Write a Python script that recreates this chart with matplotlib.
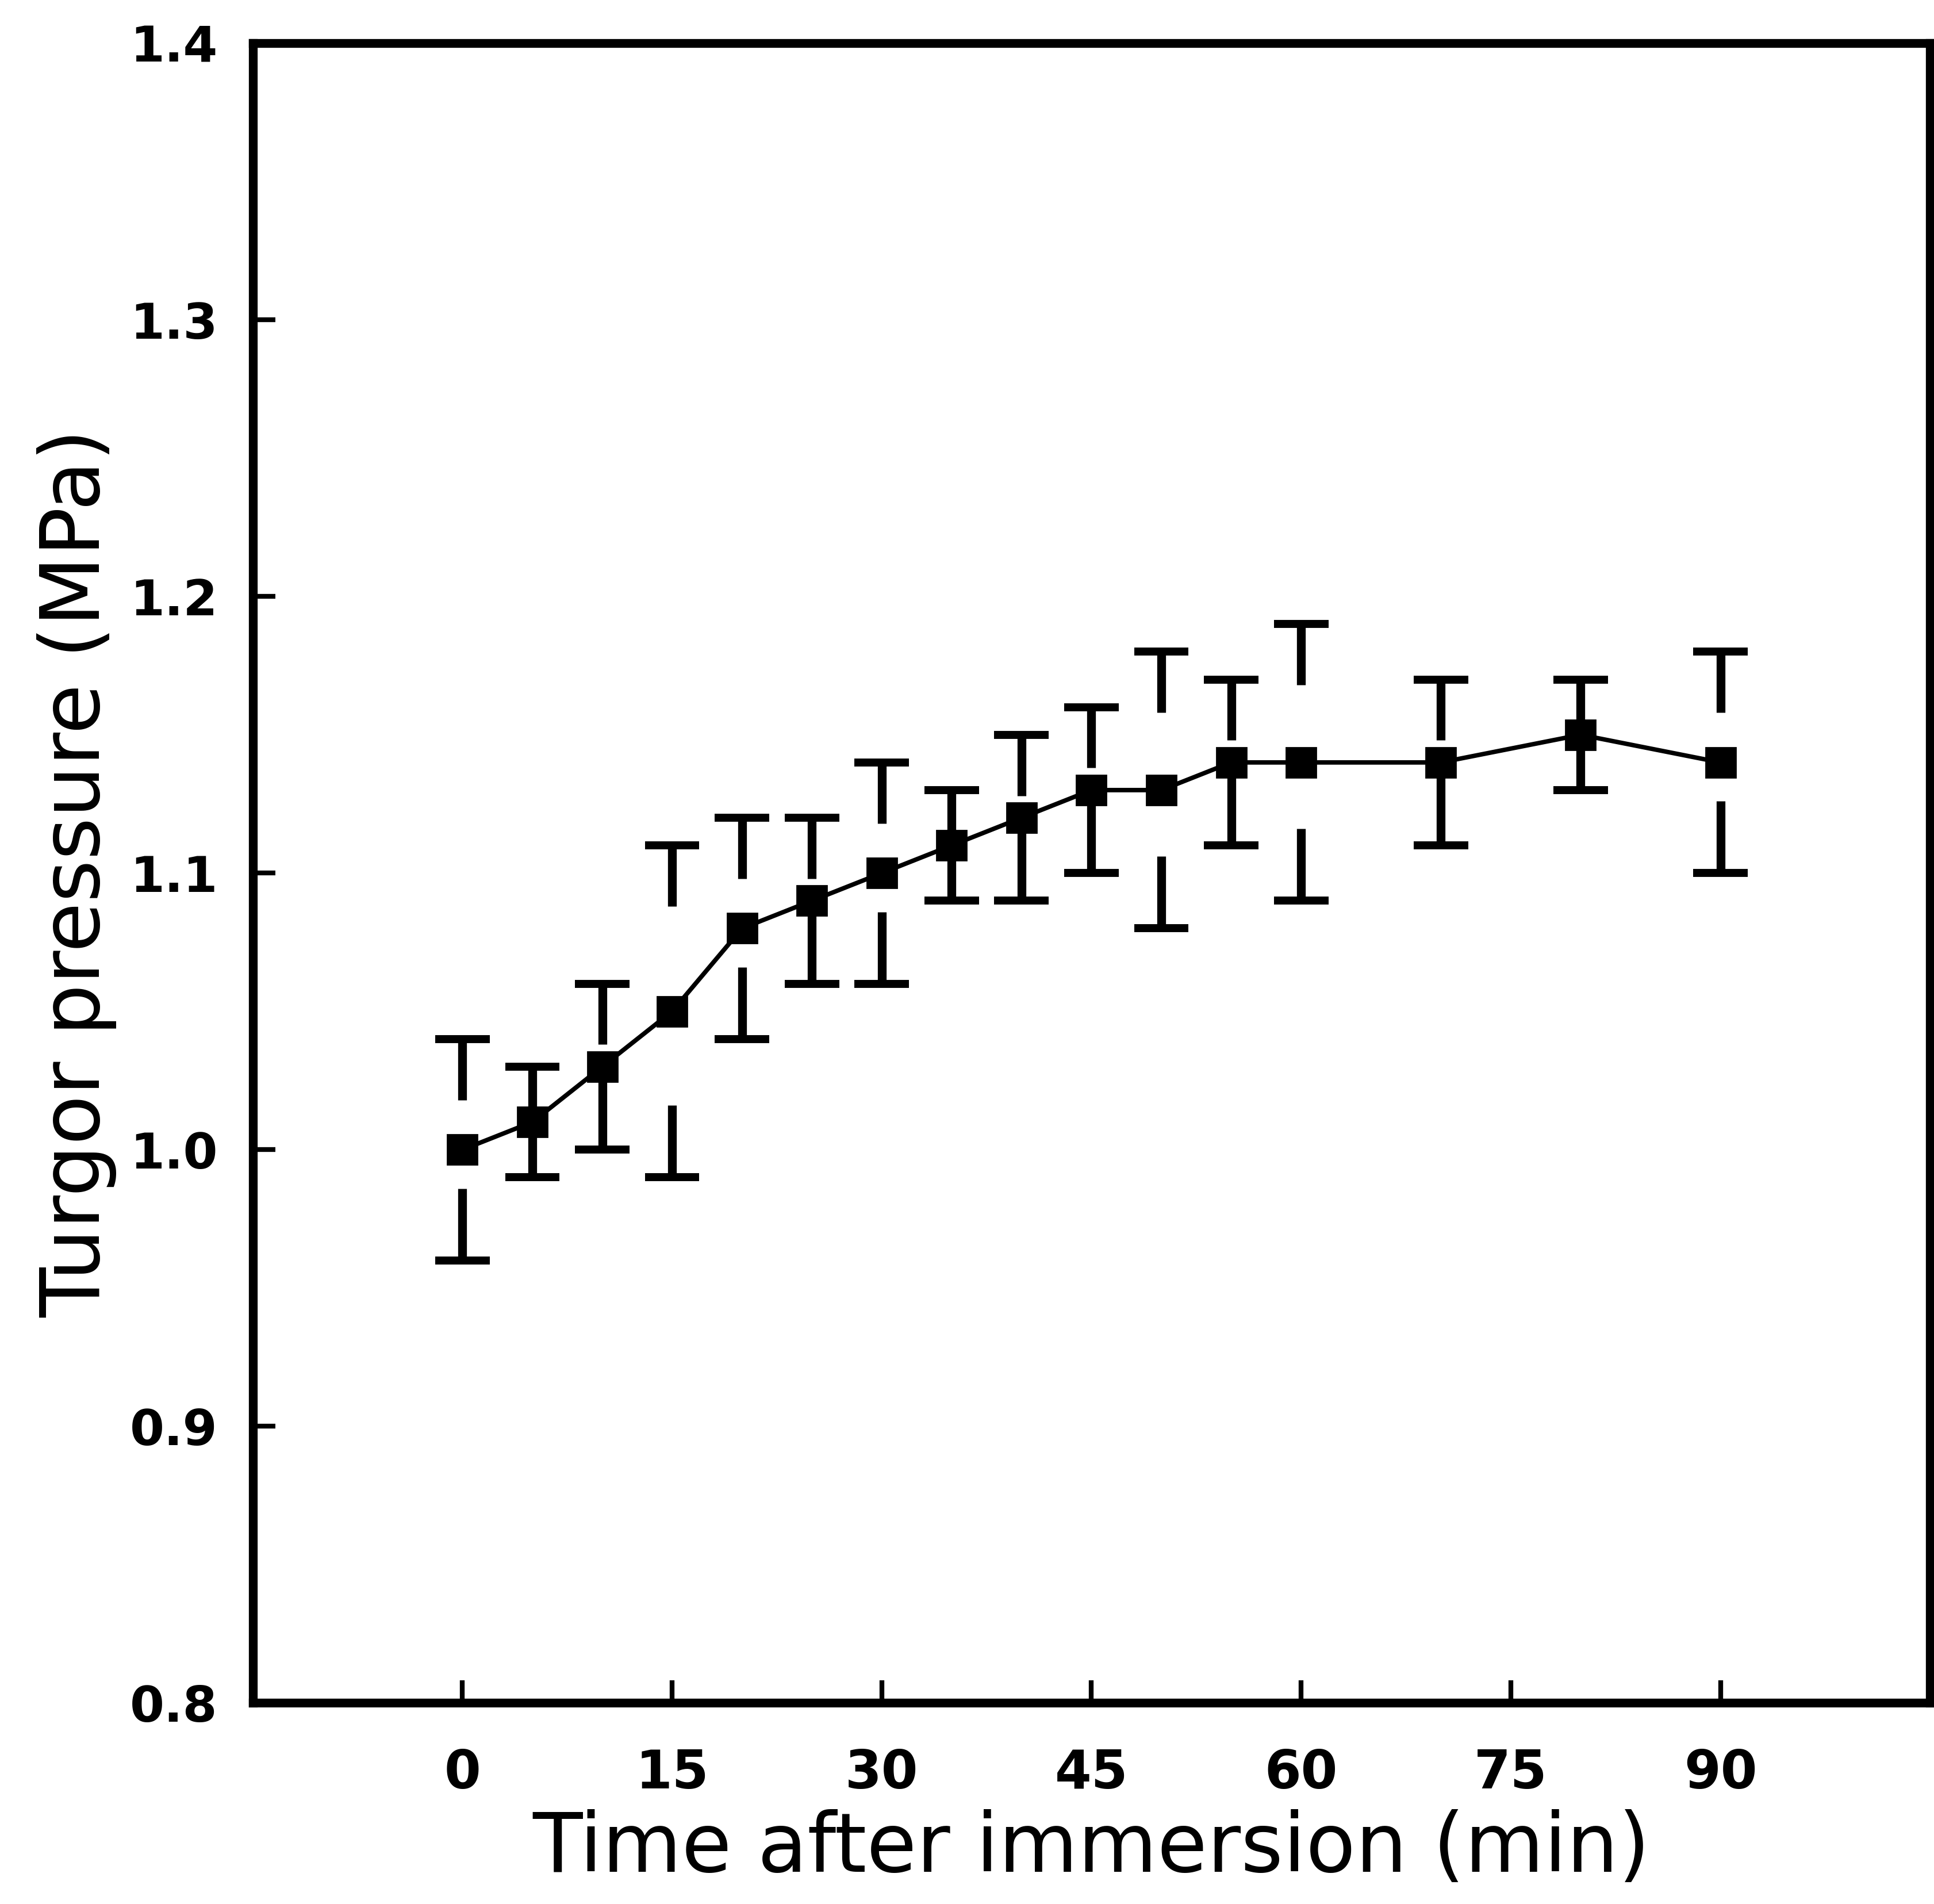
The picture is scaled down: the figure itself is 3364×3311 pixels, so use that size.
import numpy as np
import matplotlib
matplotlib.use("Agg")
import matplotlib.pyplot as plt

# time after immersion (min) and turgor pressure (MPa) with error bar ends
minutes = [0, 5, 10, 15, 20, 25, 30, 35, 40, 45, 50, 55, 60, 70, 80, 90]
turgor = [1.00, 1.01, 1.03, 1.05, 1.08, 1.09, 1.10, 1.11, 1.12, 1.13, 1.13, 1.14, 1.14, 1.14, 1.15, 1.14]
upper = [1.04, 1.03, 1.06, 1.11, 1.12, 1.12, 1.14, 1.13, 1.15, 1.16, 1.18, 1.17, 1.19, 1.17, 1.17, 1.18]
lower = [0.96, 0.99, 1.00, 0.99, 1.04, 1.06, 1.06, 1.09, 1.09, 1.10, 1.08, 1.11, 1.09, 1.11, 1.13, 1.10]

xticks = [0, 15, 30, 45, 60, 75, 90]
yticks = [0.8, 0.9, 1.0, 1.1, 1.2, 1.3, 1.4]


def main():
    plt.rcParams['font.family'] = ['DejaVu Sans']

    fig = plt.figure(figsize=(16.82, 16.555), dpi=200)
    ax = fig.add_axes([0.1307, 0.1056, 0.8673, 0.8717])

    x = np.array(minutes, dtype=float)
    y = np.array(turgor)
    hi = np.array(upper)
    lo = np.array(lower)

    # stems in the original are short pieces hanging from the caps
    stem_up = 0.022
    stem_lo = 0.026
    top_end = np.maximum(hi - stem_up, y)
    bot_end = np.minimum(lo + stem_lo, y)

    ax.vlines(x, top_end, hi, color='black', lw=5.5, zorder=2)
    ax.vlines(x, lo, bot_end, color='black', lw=5.5, zorder=2)
    ax.hlines(hi, x - 1.95, x + 1.95, color='black', lw=5, zorder=2)
    ax.hlines(lo, x - 1.95, x + 1.95, color='black', lw=5, zorder=2)

    ax.plot(x, y, '-', color='black', lw=2.8, zorder=3)
    ax.plot(x, y, 's', ms=19, color='black', zorder=4)

    ax.set_xlim(-15, 105)
    ax.set_ylim(0.8, 1.4)
    ax.set_xticks(xticks)
    ax.set_yticks(yticks)
    ax.set_yticklabels(['%.1f' % v for v in yticks])

    ax.tick_params(direction='in', length=14, width=3, top=False, right=False)
    ax.tick_params(axis='y', labelsize=31, pad=22)
    ax.tick_params(axis='x', labelsize=33, pad=28)
    for lab in ax.get_yticklabels() + ax.get_xticklabels():
        lab.set_fontweight('bold')

    for side in ['left', 'bottom', 'top', 'right']:
        ax.spines[side].set_linewidth(5.5)

    ax.set_xlabel('Time after immersion (min)', fontsize=51, labelpad=6)
    ax.set_ylabel('Turgor pressure (MPa)', fontsize=51, labelpad=8)

    fig.savefig('out.png', dpi=200, facecolor='white')


if __name__ == '__main__':
    main()
